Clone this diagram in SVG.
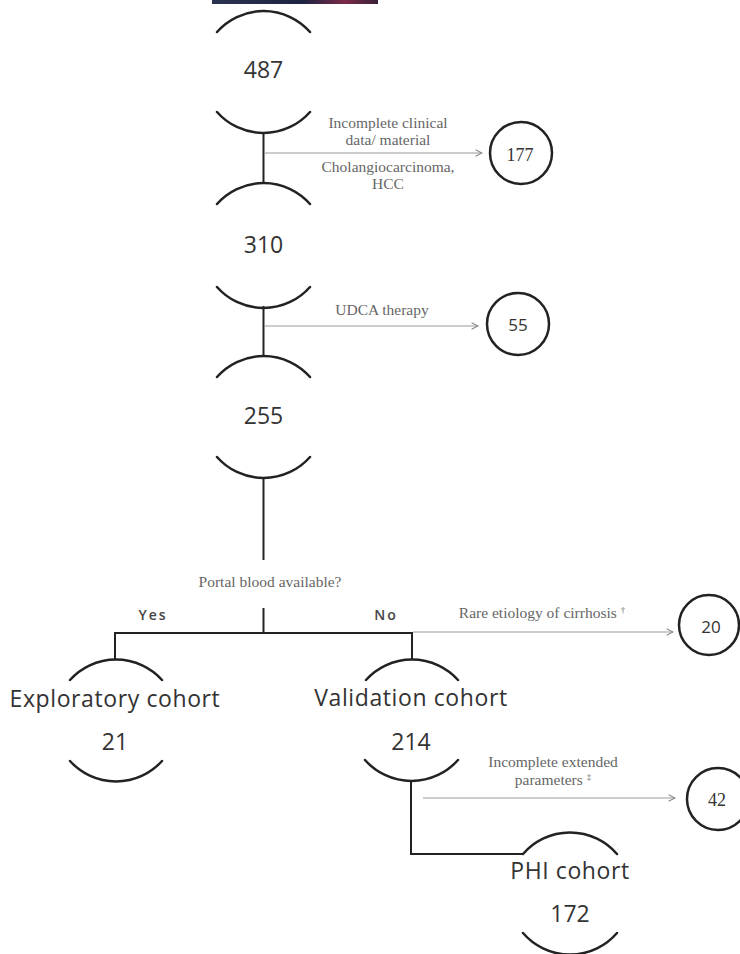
<svg xmlns="http://www.w3.org/2000/svg" width="740" height="954" viewBox="0 0 740 954">
<style>
.arc{fill:none;stroke:#222;stroke-width:2.5;stroke-linecap:round}
.ln{fill:none;stroke:#222;stroke-width:2}
.ar{fill:none;stroke:#999;stroke-width:1.2}
.circ{fill:#fff;stroke:#222;stroke-width:2.5}
.big{font-family:"Open Sans","Noto Sans",sans-serif;font-size:23px;fill:#333;text-anchor:middle;letter-spacing:0.6px}
.num{font-family:"Open Sans","Noto Sans",sans-serif;font-size:23px;fill:#333;text-anchor:middle}
.cn{font-family:"Open Sans","Noto Sans",sans-serif;font-size:17px;fill:#333;text-anchor:middle}
.cs{font-family:"Liberation Serif","Times New Roman",serif;font-size:18px;fill:#333;text-anchor:middle}
.sm{font-family:"Liberation Serif","Times New Roman",serif;font-size:15.5px;fill:#666;text-anchor:middle}
.yn{font-family:"Open Sans","Noto Sans",sans-serif;font-size:14px;font-weight:600;fill:#444;text-anchor:middle;letter-spacing:2px}
</style>
<defs>
<linearGradient id="bar" x1="0" y1="0" x2="1" y2="0">
<stop offset="0" stop-color="#2a3350"/>
<stop offset="0.55" stop-color="#1d2442"/>
<stop offset="0.8" stop-color="#7a2a48"/>
<stop offset="1" stop-color="#3a2038"/>
</linearGradient>
<marker id="ah" viewBox="0 0 10 10" refX="9" refY="5" markerWidth="8" markerHeight="8" orient="auto" markerUnits="userSpaceOnUse">
<path d="M1 1 L9 5 L1 9" fill="none" stroke="#888" stroke-width="1.3"/>
</marker>
</defs>
<rect x="212" y="0" width="166" height="4" fill="url(#bar)"/>

<g id="connectors">
<path class="ln" d="M263.5 132 V183"/>
<path class="ln" d="M263.5 306 V355"/>
<path class="ln" d="M263.5 477 V560"/>
<path class="ln" d="M263.5 608 V633"/>
<path class="ln" d="M115 660 V633 H412 V660"/>
<path class="ln" d="M411 781 V854 H523"/>
<path class="ar" d="M265 153 H482" marker-end="url(#ah)"/>
<path class="ar" d="M265 326 H478" marker-end="url(#ah)"/>
<path class="ar" d="M413 632 H673" marker-end="url(#ah)"/>
<path class="ar" d="M423 798 H675" marker-end="url(#ah)"/>
<text class="sm" x="388" y="128">Incomplete clinical</text>
<text class="sm" x="388" y="145">data/ material</text>
<text class="sm" x="388" y="172">Cholangiocarcinoma,</text>
<text class="sm" x="388" y="189">HCC</text>
<text class="sm" x="382" y="315">UDCA therapy</text>
<text class="sm" x="270" y="587">Portal blood available?</text>
<text class="yn" x="153" y="620">Yes</text>
<text class="yn" x="386" y="620">No</text>
<text class="sm" x="542" y="618">Rare etiology of cirrhosis <tspan font-size="9" dy="-5">†</tspan></text>
<text class="sm" x="553" y="767">Incomplete extended</text>
<text class="sm" x="553" y="785">parameters <tspan font-size="9" dy="-5">‡</tspan></text>
</g>

<g id="n487">
<path class="arc" d="M217 32 A62 62 0 0 1 310 32"/>
<text class="num" x="263.5" y="78">487</text>
<path class="arc" d="M217 112 A62 62 0 0 0 310 112"/>
</g>
<g id="n310">
<path class="arc" d="M217 204 A62 62 0 0 1 310 204"/>
<text class="num" x="263.5" y="253">310</text>
<path class="arc" d="M217 287 A62 62 0 0 0 310 287"/>
</g>
<g id="n255">
<path class="arc" d="M217 377 A62 62 0 0 1 310 377"/>
<text class="num" x="263.5" y="424">255</text>
<path class="arc" d="M217 457 A62 62 0 0 0 310 457"/>
</g>
<g id="exploratory">
<path class="arc" d="M70 680 A62 62 0 0 1 162 680"/>
<text class="big" x="115" y="707">Exploratory cohort</text>
<text class="num" x="115" y="750">21</text>
<path class="arc" d="M70 761 A62 62 0 0 0 162 761"/>
</g>
<g id="validation">
<path class="arc" d="M366 680 A62 62 0 0 1 458 680"/>
<text class="big" x="411" y="706">Validation cohort</text>
<text class="num" x="411" y="750">214</text>
<path class="arc" d="M365 760 A62 62 0 0 0 458 760"/>
</g>
<g id="phi">
<path class="arc" d="M523 854 A62 62 0 0 1 617 854"/>
<text class="big" x="570" y="879">PHI cohort</text>
<text class="num" x="570" y="922">172</text>
<path class="arc" d="M523 933 A62 62 0 0 0 617 933"/>
</g>
<g id="ex177">
<circle class="circ" cx="521" cy="153" r="31"/>
<text class="cs" x="520" y="161">177</text>
</g>
<g id="ex55">
<circle class="circ" cx="518" cy="324" r="31"/>
<text class="cn" x="518" y="331">55</text>
</g>
<g id="ex20">
<circle class="circ" cx="709" cy="625" r="30"/>
<text class="cn" x="711" y="633">20</text>
</g>
<g id="ex42">
<circle class="circ" cx="718" cy="799" r="31"/>
<text class="cs" x="717" y="806">42</text>
</g>
</svg>
